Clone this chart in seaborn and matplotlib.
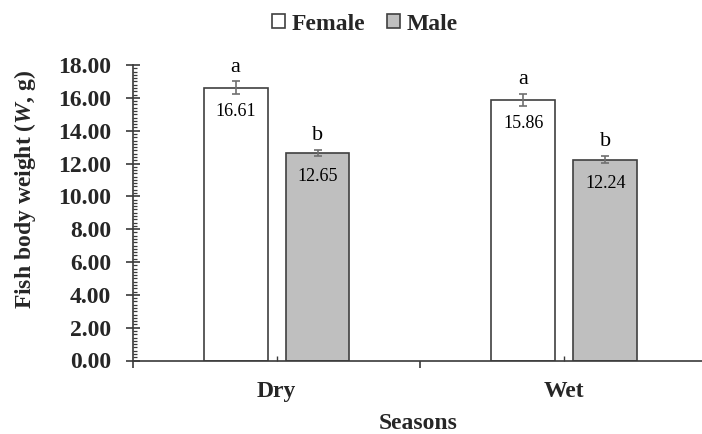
import numpy as np
import pandas as pd
import matplotlib
matplotlib.use("Agg")
import matplotlib.pyplot as plt
from matplotlib.patches import Patch
from matplotlib.ticker import MultipleLocator, FixedLocator, FormatStrFormatter
import seaborn as sns

# ---- data ----
seasons = ["Dry", "Wet"]
sexes = ["Female", "Male"]
female_mean = [16.61, 15.86]
male_mean = [12.65, 12.24]
female_err = [0.40, 0.38]
male_err = [0.20, 0.23]
female_letters = ["a", "a"]
male_letters = ["b", "b"]
y_ticks = [0, 2, 4, 6, 8, 10, 12, 14, 16, 18]

df = pd.DataFrame({
    "Season": seasons * 2,
    "Sex": [sexes[0]] * len(seasons) + [sexes[1]] * len(seasons),
    "Weight": female_mean + male_mean,
    "Err": female_err + male_err,
    "Letter": female_letters + male_letters,
})

sns.set_theme(style="white")
plt.rcParams["font.family"] = ["Liberation Serif", "DejaVu Serif"]
plt.rcParams["mathtext.fontset"] = "custom"
plt.rcParams["mathtext.rm"] = "Liberation Serif:bold"
plt.rcParams["mathtext.bf"] = "Liberation Serif:bold"
plt.rcParams["mathtext.it"] = "Liberation Serif:italic:bold"

W, H = 702, 434
fig = plt.figure(figsize=(W / 100, H / 100), dpi=100)
ax = fig.add_axes([132.7 / W, (H - 360.5) / H, (708 - 132.7) / W, (360.5 - 65) / H])

edge = "#404040"
pal = {"Female": "#FFFFFF", "Male": "#BFBFBF"}
sns.barplot(data=df, x="Season", y="Weight", hue="Sex", order=seasons,
            hue_order=sexes, palette=pal, width=0.57, gap=0.22,
            edgecolor=edge, linewidth=1.2, errorbar=None, legend=False, ax=ax)

# error bars, value labels and letters from the drawn bars
bars = [p for p in ax.patches]
for p, (_, row) in zip(bars, df.iterrows()):
    cx = p.get_x() + p.get_width() / 2
    v = p.get_height()
    ax.errorbar(cx, v, yerr=row["Err"], fmt="none", ecolor="#707070",
                elinewidth=1.2, capsize=3.2, capthick=1.2, zorder=5)
    ax.annotate(f"{v:.2f}", (cx, v), xytext=(0, -17), textcoords="offset points",
                ha="center", va="center", fontsize=13, color="black")
    ax.annotate(row["Letter"], (cx, v + row["Err"]), xytext=(0, 7),
                textcoords="offset points", ha="center", va="baseline",
                fontsize=16, color="black")

ax.set_ylim(0, 18)
ax.set_xlim(-0.5, len(seasons) - 0.5)
ax.yaxis.set_major_locator(FixedLocator(y_ticks))
ax.yaxis.set_minor_locator(MultipleLocator(0.2))
ax.yaxis.set_major_formatter(FormatStrFormatter("%.2f"))
ax.xaxis.set_minor_locator(FixedLocator(np.arange(-0.5, len(seasons), 1.0)))

for s in ["top", "right"]:
    ax.spines[s].set_visible(False)
for s in ["left", "bottom"]:
    ax.spines[s].set_color("#3a3a3a")
    ax.spines[s].set_linewidth(1.2)

ax.tick_params(axis="y", which="major", direction="inout", length=9.4, width=1.2,
               color="#3a3a3a", pad=11, labelsize=17, left=True)
ax.tick_params(axis="y", which="minor", direction="in", length=3, width=0.9,
               color="#3a3a3a", left=True)
ax.tick_params(axis="x", which="major", direction="in", length=3.6, width=1.0,
               color="#3a3a3a", pad=15, labelsize=17, bottom=True)
ax.tick_params(axis="x", which="minor", direction="out", length=5, width=1.2,
               color="#3a3a3a", bottom=True)
for t in ax.get_xticklabels() + ax.get_yticklabels():
    t.set_fontweight("bold")

ax.set_xlabel("")
ax.set_ylabel("")
fig.text(418.5 / W, 1 - 429 / H, "Seasons", ha="center", va="baseline",
         fontsize=17, fontweight="bold")
fig.text(25 / W, 1 - 189.5 / H, r"Fish body weight ($\mathit{W}$, g)",
         rotation=90, ha="center", va="center", fontsize=17, fontweight="bold")

handles = [Patch(facecolor=pal[s], edgecolor=edge, linewidth=1.2, label=s) for s in sexes]
fig.legend(handles=handles, loc="center", bbox_to_anchor=(365 / W, 1 - 24 / H),
           ncol=2, frameon=False, handlelength=0.55, handleheight=0.55,
           handletextpad=0.3, columnspacing=0.9,
           prop={"weight": "bold", "size": 17})

fig.savefig("out.png", dpi=100)
